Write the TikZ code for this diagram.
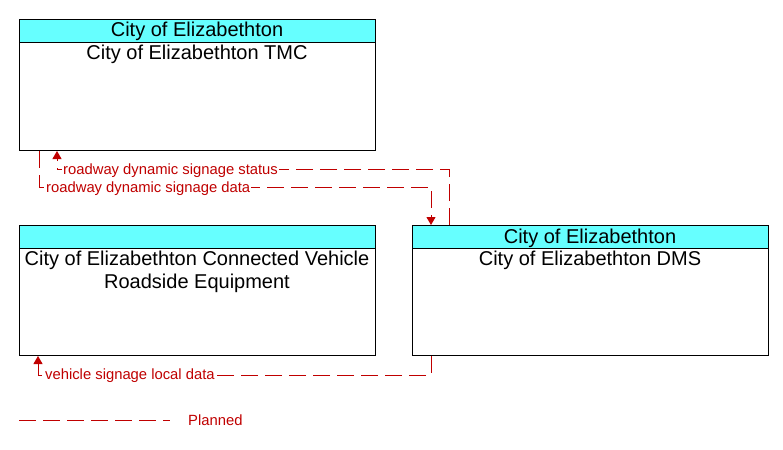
\documentclass[tikz,border=0pt]{standalone}
\usepackage{fontspec}
\setmainfont{Liberation Sans}
\usetikzlibrary{arrows.meta}
\definecolor{hdrc}{RGB}{102,255,255}
\definecolor{flowc}{RGB}{192,0,0}
\begin{document}
\begin{tikzpicture}[x=1pt,y=-1pt,
  box/.style={draw=black,line width=1pt,inner sep=0pt,anchor=north west,minimum width=356pt,minimum height=131pt},
  hdrbox/.style={draw=black,fill=hdrc,line width=1pt,inner sep=0pt,anchor=north west,minimum width=356pt,minimum height=23pt},
  ttl/.style={inner sep=0pt,anchor=base,font=\fontsize{20}{23}\selectfont,align=center},
  flow/.style={draw=flowc,line width=1pt,dash pattern=on 17pt off 7pt},
  tip/.style={-{Triangle[width=9pt,length=8pt]}},
  lbl/.style={anchor=base west,text=flowc,fill=white,inner sep=1pt,font=\fontsize{14.8}{17}\selectfont}]
\useasboundingbox (0,0) rectangle (783,449);
% boxes
\node[box] (tmc) at (19,19) {};
\node[hdrbox] (tmch) at (19,19) {};
\node[ttl] (tmct) at (197,37) {City of Elizabethton};
\node[ttl] (tmcb) at (197,59.5) {City of Elizabethton TMC};

\node[box,minimum height=130pt] (cvre) at (19,225) {};
\node[hdrbox] (cvreh) at (19,225) {};
\node[ttl] (cvreb) at (197,288.5) {City of Elizabethton Connected Vehicle\\Roadside Equipment};

\node[box,minimum height=130pt] (dms) at (412,225) {};
\node[hdrbox] (dmsh) at (412,225) {};
\node[ttl] (dmst) at (590,243) {City of Elizabethton};
\node[ttl] (dmsb) at (590,265.5) {City of Elizabethton DMS};

% flows
\draw[flow,tip] ([xshift=37pt]dms.north west) -- ++(0,-56) -| ([xshift=38pt]tmc.south west);
\draw[flow,tip] ([xshift=20pt]tmc.south west) |- ([xshift=19pt,yshift=38pt]dms.north west) -- ([xshift=19pt]dms.north west);
\draw[flow,tip] ([xshift=19pt]dms.south west) -- ++(0,19) -| ([xshift=19pt]cvre.south west);

\node[lbl] (l1) at (62,174.5) {roadway dynamic signage status};
\node[lbl] (l2) at (45,192.5) {roadway dynamic signage data};
\node[lbl] (l3) at (44,379.5) {vehicle signage local data};

% legend
\coordinate (lg1) at (19,420);
\coordinate (lg2) at (170,420);
\draw[flow] (lg1) -- (lg2);
\node[anchor=base west,text=flowc,inner sep=1pt,font=\fontsize{14.8}{17}\selectfont] (lgt) at (187,425) {Planned};
\end{tikzpicture}
\end{document}
